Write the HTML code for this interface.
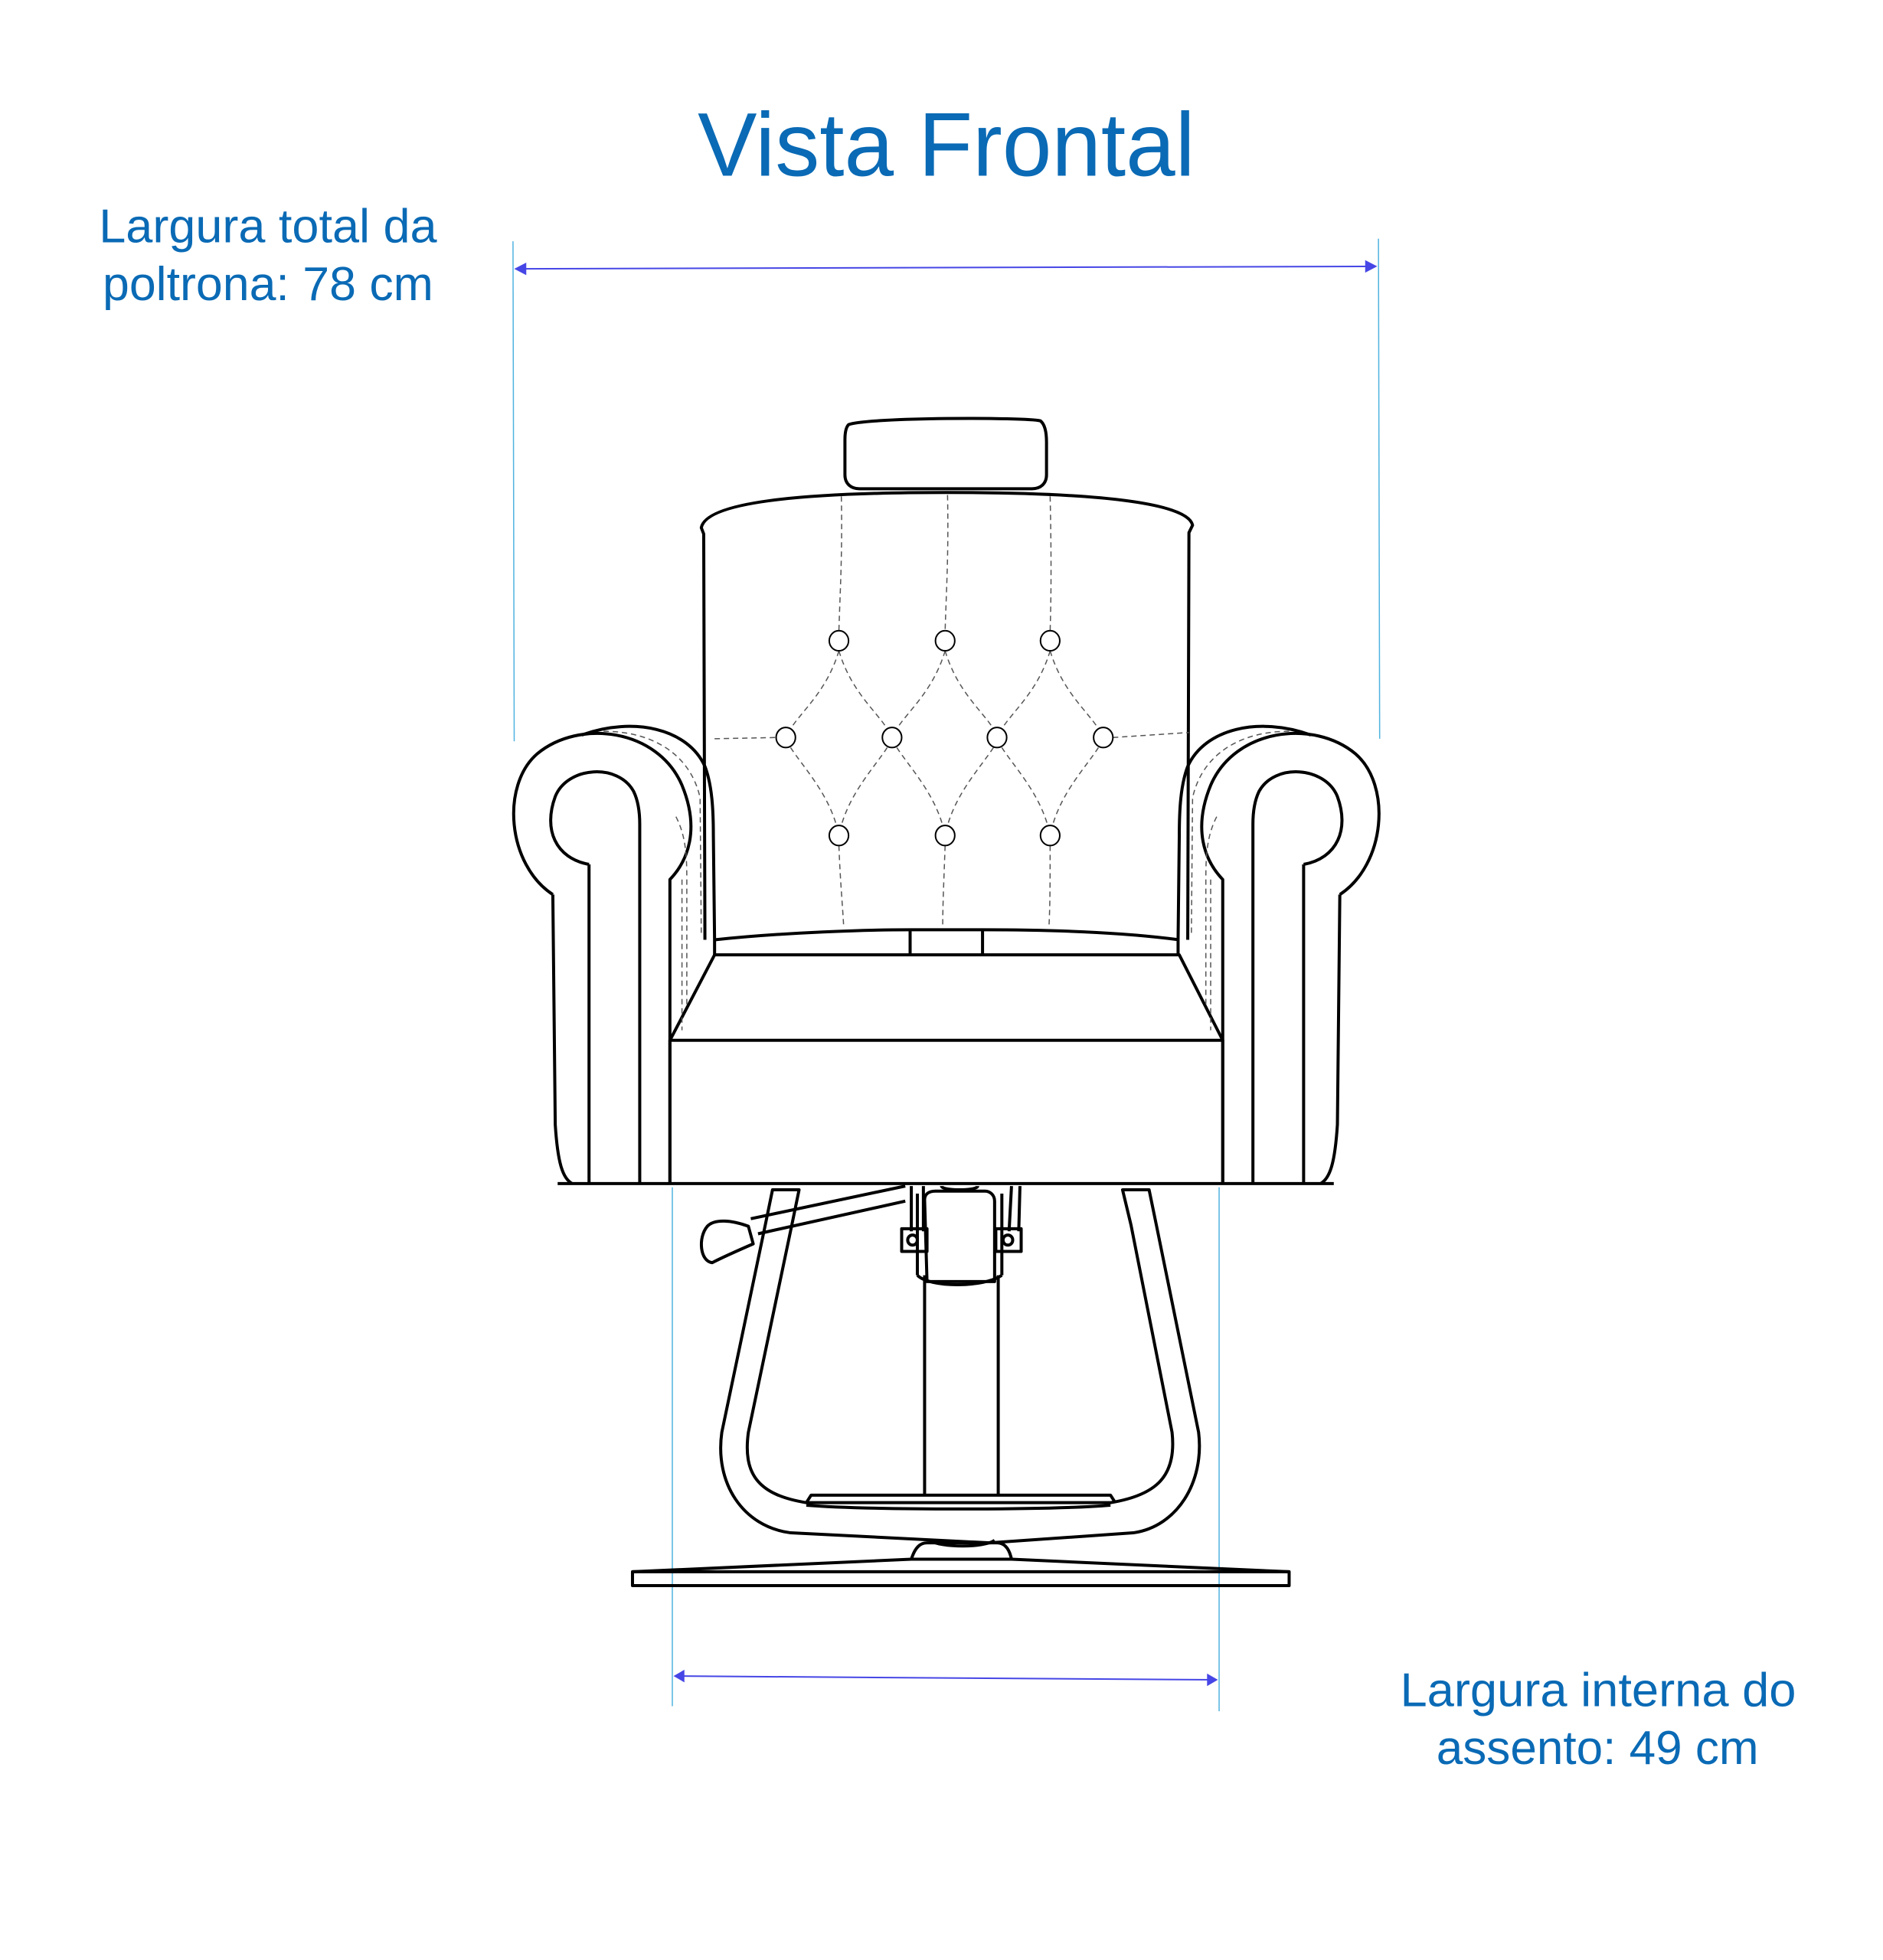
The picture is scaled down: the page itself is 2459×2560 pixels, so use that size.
<!DOCTYPE html>
<html><head><meta charset="utf-8"><style>
html,body{margin:0;padding:0;background:#fff;width:2459px;height:2560px;overflow:hidden}
svg{display:block}
</style></head><body>
<svg width="2459" height="2560" viewBox="0 0 1560 1560" preserveAspectRatio="none" xmlns="http://www.w3.org/2000/svg">
<g font-family="Liberation Sans, sans-serif" fill="#0a6ab5">
<text x="784" y="140" font-size="72" text-anchor="middle" textLength="412" lengthAdjust="spacingAndGlyphs">Vista Frontal</text>
<text x="82" y="193" font-size="38" textLength="280" lengthAdjust="spacingAndGlyphs">Largura total da</text>
<text x="85" y="239" font-size="38" textLength="274" lengthAdjust="spacingAndGlyphs">poltrona: 78 cm</text>
<text x="1160" y="1358" font-size="38" textLength="328" lengthAdjust="spacingAndGlyphs">Largura interna do</text>
<text x="1190" y="1404" font-size="38" textLength="267" lengthAdjust="spacingAndGlyphs">assento: 49 cm</text>
</g>
<g stroke="#4fb3e0" stroke-width="1.5" vector-effect="non-scaling-stroke" fill="none">
<line x1="425" y1="192" x2="426" y2="590" vector-effect="non-scaling-stroke"/>
<line x1="1142" y1="190" x2="1143" y2="588" vector-effect="non-scaling-stroke"/>
<line x1="557" y1="945" x2="557" y2="1358" vector-effect="non-scaling-stroke"/>
<line x1="1010" y1="945" x2="1010" y2="1362" vector-effect="non-scaling-stroke"/>
</g>
<g stroke="#4646e6" fill="#4646e6">
<line x1="428" y1="214" x2="1138" y2="212" stroke-width="2" vector-effect="non-scaling-stroke"/>
<path d="M426,214 L436,209 L436,219 Z M1141,212 L1131,207 L1131,217 Z" stroke="none"/>
<line x1="560" y1="1334" x2="1007" y2="1337" stroke-width="2" vector-effect="non-scaling-stroke"/>
<path d="M558,1334 L567,1329 L567,1339 Z M1009,1337 L1000,1332 L1000,1342 Z" stroke="none"/>
</g>
<g id="chair" stroke="#000" fill="none" stroke-width="4" stroke-linejoin="round">
<!-- headrest -->
<path vector-effect="non-scaling-stroke" d="M703,338 C720,332 850,332 862,335 C866,338 867,345 867,352 L867,378 C867,385 862,389 855,389 L712,389 C705,389 700,385 700,378 L700,350 C700,344 701,340 703,338 Z"/>
<!-- backrest -->
<path vector-effect="non-scaling-stroke" d="M584,748 L583,425 L581,420 C585,400 660,392 784,392 C908,392 984,400 988,418 L985,424 L984,748"/>
<!-- seat -->
<path vector-effect="non-scaling-stroke" d="M592,748 C650,742 720,740 754,740 L814,740 C870,740 930,742 977,748"/>
<path vector-effect="non-scaling-stroke" d="M754,740 L754,760 M814,740 L814,760"/>
<path vector-effect="non-scaling-stroke" d="M592,760 L977,760 L1013,828 L555,828 Z"/>
<path vector-effect="non-scaling-stroke" d="M555,828 L555,942 M1013,828 L1013,942"/>
<path vector-effect="non-scaling-stroke" d="M462,942 L1105,942"/>
<!-- left arm -->
<g id="arm">
<path vector-effect="non-scaling-stroke" d="M482,585 C525,570 570,580 584,610 C590,625 591,645 591,665 L592,748 L592,760"/>
<path vector-effect="non-scaling-stroke" d="M458,712 C420,688 415,625 445,600 C480,572 545,580 565,625 C580,660 570,685 555,700 L555,942"/>
<path vector-effect="non-scaling-stroke" d="M458,712 L460,895 C462,925 466,938 474,942"/>
<path vector-effect="non-scaling-stroke" d="M488,688 C460,683 450,660 460,634 C470,610 512,607 525,630 C529,638 530,648 530,656 L530,942 M488,688 L488,942"/>
<g stroke-width="1.5" stroke="#555" stroke-dasharray="7,5">
<path vector-effect="non-scaling-stroke" d="M500,582 C540,582 572,600 580,635 L581,745"/>
<path vector-effect="non-scaling-stroke" d="M560,650 C568,665 569,680 569,700 L569,800"/>
<path vector-effect="non-scaling-stroke" d="M565,700 L565,820"/>
</g>
</g>
<use href="#arm" transform="matrix(-1,0,0,1,1568,0)"/>
<!-- tufting -->
<g stroke-width="1.5" stroke="#555" stroke-dasharray="7,5">
<path vector-effect="non-scaling-stroke" d="M697,395 C698,440 696,470 695,502 M785,394 C786,440 784,470 783,502 M870,395 C871,440 871,470 870,502"/>
<path vector-effect="non-scaling-stroke" d="M695,673 C696,700 698,720 699,738 M783,673 C782,700 781,720 781,738 M870,673 C870,700 870,720 869,738"/>
<path vector-effect="non-scaling-stroke" d="M592,588 L643,587 M922,587 L985,583"/>
<path vector-effect="non-scaling-stroke" d="M695,518 C685,550 665,565 655,580 M695,518 C705,550 725,565 735,580 M783,518 C773,550 753,565 743,580 M783,518 C793,550 813,565 823,580 M870,518 C860,550 840,565 830,580 M870,518 C880,550 900,565 910,580"/>
<path vector-effect="non-scaling-stroke" d="M655,595 C665,610 685,630 693,657 M735,595 C725,610 705,630 697,657 M743,595 C753,610 773,630 781,657 M823,595 C813,610 793,630 785,657 M830,595 C840,610 860,630 868,657 M910,595 C900,610 880,630 872,657"/>
</g>
<g stroke-width="2" fill="#fff">
<circle cx="695" cy="510" r="8" vector-effect="non-scaling-stroke"/><circle cx="783" cy="510" r="8" vector-effect="non-scaling-stroke"/><circle cx="870" cy="510" r="8" vector-effect="non-scaling-stroke"/>
<circle cx="651" cy="587" r="8" vector-effect="non-scaling-stroke"/><circle cx="739" cy="587" r="8" vector-effect="non-scaling-stroke"/><circle cx="826" cy="587" r="8" vector-effect="non-scaling-stroke"/><circle cx="914" cy="587" r="8" vector-effect="non-scaling-stroke"/>
<circle cx="695" cy="665" r="8" vector-effect="non-scaling-stroke"/><circle cx="783" cy="665" r="8" vector-effect="non-scaling-stroke"/><circle cx="870" cy="665" r="8" vector-effect="non-scaling-stroke"/>
</g>
<!-- base -->
<path vector-effect="non-scaling-stroke" d="M640,947 L662,947 L656,975 L620,1140 C615,1175 630,1190 668,1196 L920,1196 C958,1190 975,1175 971,1140 L937,975 L930,947 L952,947 L958,975 L993,1140 C998,1180 975,1215 939,1220 L820,1228 L655,1220 C615,1215 592,1180 598,1140 L634,975 Z"/>
<path vector-effect="non-scaling-stroke" d="M668,1196 L672,1190 L920,1190 L924,1196 M668,1198 C720,1202 870,1202 920,1198"/>
<path vector-effect="non-scaling-stroke" d="M766,1015 L766,1190 M827,1015 L827,1190"/>
<path vector-effect="non-scaling-stroke" d="M766,955 C766,950 770,948 775,948 L816,948 C820,948 824,951 824,956 L824,1020 L768,1020 Z"/>
<path vector-effect="non-scaling-stroke" d="M760,1015 C770,1025 815,1025 830,1015 M760,950 L760,1015 M830,950 L830,1015"/>
<path vector-effect="non-scaling-stroke" d="M780,944 C780,948 810,948 810,944"/>
<path vector-effect="non-scaling-stroke" d="M755,944 L755,980 M765,944 L765,980 M838,944 L836,980 M845,944 L844,980"/>
<path vector-effect="non-scaling-stroke" d="M747,978 L768,978 L768,996 L747,996 Z M825,978 L846,978 L846,996 L825,996 Z"/>
<circle cx="756" cy="987" r="4" vector-effect="non-scaling-stroke"/><circle cx="835" cy="987" r="4" vector-effect="non-scaling-stroke"/>
<path vector-effect="non-scaling-stroke" d="M622,970 L750,944 M628,982 L750,956"/>
<path vector-effect="non-scaling-stroke" d="M586,976 C592,970 606,971 620,976 L624,990 C612,995 600,1000 590,1005 C580,1004 578,985 586,976 Z"/>
<path vector-effect="non-scaling-stroke" d="M755,1241 C758,1232 762,1228 768,1228 L826,1228 C832,1228 836,1232 838,1241"/>
<path vector-effect="non-scaling-stroke" d="M770,1226 C780,1232 815,1232 824,1226"/>
<path vector-effect="non-scaling-stroke" d="M524,1251 L755,1241 L838,1241 L1068,1251"/>
<rect x="524" y="1251" width="544" height="11" vector-effect="non-scaling-stroke"/>
</g>
</svg>
</body></html>
